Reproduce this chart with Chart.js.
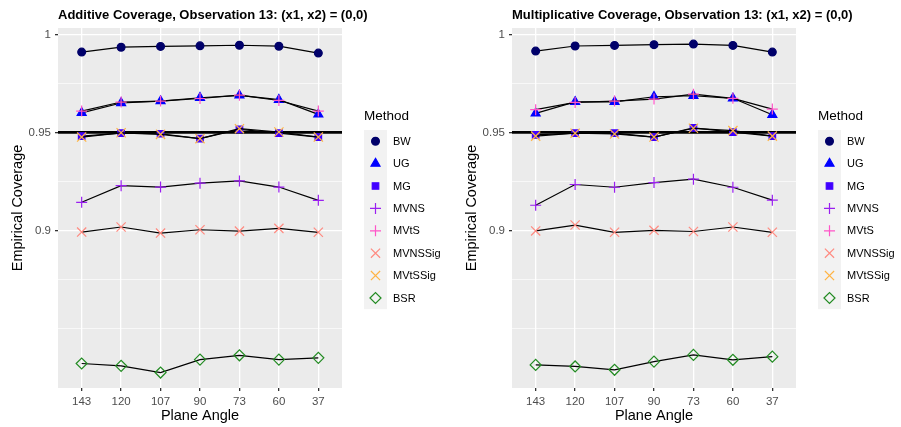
<!DOCTYPE html>
<html>
<head>
<meta charset="utf-8">
<script src="https://cdn.jsdelivr.net/npm/chart.js@4/dist/chart.umd.min.js"></script>
<style>
  html, body { margin: 0; padding: 0; background: #fff; overflow: hidden; }
  #wrap { position: relative; width: 901px; height: 427px; }
  .panel { position: absolute; top: 0; width: 450px; height: 427px; }
</style>
</head>
<body>
<div id="wrap">
  <div class="panel" style="left:0"><canvas id="addChart" width="450" height="427"></canvas></div>
  <div class="panel" style="left:454px"><canvas id="mulChart" width="450" height="427"></canvas></div>
</div>
<script>
// Coverage by plane angle, one line per method, two panels (additive / multiplicative)

var angles = ['143', '120', '107', '90', '73', '60', '37'];
var methods = ['BW', 'UG', 'MG', 'MVNS', 'MVtS', 'MVNSSig', 'MVtSSig', 'BSR'];

var yTicks = [0.9, 0.95, 1];
var yTickLabels = ['0.9', '0.95', '1'];
var yMinor = [0.85, 0.875, 0.925, 0.975];
var nominal = 0.95;

// additive panel
var addBW      = [0.9910, 0.9935, 0.9939, 0.9942, 0.9945, 0.9940, 0.9905];
var addUG      = [0.9600, 0.9650, 0.9660, 0.9677, 0.9689, 0.9667, 0.9592];
var addMG      = [0.9481, 0.9496, 0.9493, 0.9468, 0.9515, 0.9496, 0.9476];
var addMVNS    = [0.9143, 0.9228, 0.9221, 0.9241, 0.9252, 0.9221, 0.9153];
var addMVtS    = [0.9609, 0.9655, 0.9660, 0.9673, 0.9690, 0.9663, 0.9609];
var addMVNSSig = [0.8991, 0.9017, 0.8986, 0.9003, 0.8996, 0.9010, 0.8990];
var addMVtSSig = [0.9476, 0.9498, 0.9490, 0.9468, 0.9519, 0.9502, 0.9476];
var addBSR     = [0.8320, 0.8308, 0.8274, 0.8340, 0.8362, 0.8340, 0.8349];

// multiplicative panel
var mulBW      = [0.9915, 0.9941, 0.9944, 0.9948, 0.9951, 0.9944, 0.9910];
var mulUG      = [0.9597, 0.9656, 0.9656, 0.9682, 0.9687, 0.9674, 0.9590];
var mulMG      = [0.9487, 0.9496, 0.9496, 0.9476, 0.9523, 0.9501, 0.9481];
var mulMVNS    = [0.9128, 0.9234, 0.9220, 0.9244, 0.9261, 0.9220, 0.9154];
var mulMVtS    = [0.9616, 0.9653, 0.9660, 0.9670, 0.9695, 0.9674, 0.9619];
var mulMVNSSig = [0.8997, 0.9027, 0.8990, 0.9000, 0.8994, 0.9017, 0.8990];
var mulMVtSSig = [0.9481, 0.9496, 0.9492, 0.9476, 0.9521, 0.9509, 0.9481];
var mulBSR     = [0.8313, 0.8305, 0.8288, 0.8330, 0.8364, 0.8339, 0.8355];

// marker look per method
var styles = {
  BW:      { shape: 'circle',   color: '#00006A', r: 3.9, fill: true },
  UG:      { shape: 'triangle', color: '#0000FF', r: 5.2, fill: true },
  MG:      { shape: 'rect',     color: '#4000FF', r: 4.6, fill: true },
  MVNS:    { shape: 'cross',    color: '#9A1FF0', r: 5.5, fill: false },
  MVtS:    { shape: 'cross',    color: '#FF55C8', r: 5.5, fill: false },
  MVNSSig: { shape: 'crossRot', color: '#FF8A80', r: 6.5, fill: false },
  MVtSSig: { shape: 'crossRot', color: '#FFB444', r: 6.5, fill: false },
  BSR:     { shape: 'rectRot',  color: '#228B22', r: 5.5, fill: false }
};

var FONT = '"Liberation Sans", Arial, sans-serif';

var panelBg = {
  id: 'panelBg',
  beforeDraw: function(chart) {
    var a = chart.chartArea, ctx = chart.ctx;
    ctx.save();
    ctx.fillStyle = '#EBEBEB';
    ctx.fillRect(a.left, a.top, a.right - a.left, a.bottom - a.top);
    ctx.restore();
  }
};

var refLine = {
  id: 'refLine',
  beforeDatasetsDraw: function(chart) {
    var a = chart.chartArea, ctx = chart.ctx;
    var y = chart.scales.y.getPixelForValue(nominal);
    ctx.save();
    ctx.strokeStyle = '#000';
    ctx.lineWidth = 2.6;
    ctx.beginPath();
    ctx.moveTo(a.left, y);
    ctx.lineTo(a.right, y);
    ctx.stroke();
    ctx.restore();
  }
};

var titleAndLegend = {
  id: 'titleAndLegend',
  afterDraw: function(chart) {
    var a = chart.chartArea, ctx = chart.ctx;
    ctx.save();
    ctx.fillStyle = '#000';
    ctx.textBaseline = 'middle';
    ctx.textAlign = 'left';
    ctx.font = 'bold 13px ' + FONT;
    ctx.fillText(chart.options.plugins.panelTitle, a.left, 15);

    var lx = a.right + 22, top = 130, rowH = 22.4;
    ctx.font = '13.5px ' + FONT;
    ctx.fillText('Method', lx, 116);
    ctx.fillStyle = '#F2F2F2';
    ctx.fillRect(lx, top, 23, rowH * methods.length);
    ctx.font = '11px ' + FONT;
    methods.forEach(function(m, i) {
      var s = styles[m], cy = top + rowH * i + rowH / 2;
      ctx.fillStyle = s.fill ? s.color : 'rgba(0,0,0,0)';
      ctx.strokeStyle = s.color;
      ctx.lineWidth = 1.2;
      Chart.helpers.drawPoint(ctx, { pointStyle: s.shape, radius: s.r, rotation: 0, borderWidth: 1.2 }, lx + 11.5, cy);
      ctx.fillStyle = '#000';
      ctx.fillText(m, lx + 29, cy + 0.5);
    });
    ctx.restore();
  }
};

function makeChart(id, title, series) {
  var datasets = methods.map(function(m, i) {
    var s = styles[m];
    return {
      label: m,
      data: series[i].map(function(v, j) { return { x: j, y: v }; }),
      order: methods.length - i,
      borderColor: '#000',
      borderWidth: 1.2,
      pointStyle: s.shape,
      pointRadius: s.r,
      pointHoverRadius: s.r,
      pointBackgroundColor: s.fill ? s.color : 'rgba(0,0,0,0)',
      pointBorderColor: s.color,
      pointBorderWidth: 1.2,
      tension: 0,
      fill: false
    };
  });

  return new Chart(document.getElementById(id), {
    type: 'line',
    data: { datasets: datasets },
    plugins: [panelBg, refLine, titleAndLegend],
    options: {
      responsive: false,
      animation: false,
      layout: { padding: { left: 0, top: 28, right: 108, bottom: 0 } },
      plugins: {
        legend: { display: false },
        tooltip: { enabled: false },
        panelTitle: title
      },
      scales: {
        x: {
          type: 'linear',
          min: -0.6,
          max: 6.6,
          afterBuildTicks: function(scale) {
            scale.ticks = angles.map(function(a, i) { return { value: i }; });
          },
          afterFit: function(scale) { scale.height = 39; },
          ticks: {
            color: '#4D4D4D',
            font: { family: FONT, size: 11.5 },
            padding: 4,
            maxRotation: 0,
            callback: function(v) { return angles[v]; }
          },
          grid: { color: '#FFFFFF', lineWidth: 1.3, tickColor: '#333333', tickLength: 3 },
          border: { display: false },
          title: { display: true, text: 'Plane Angle', color: '#000', font: { family: FONT, size: 14.5 }, padding: { top: 0, bottom: 2 } }
        },
        y: {
          min: 0.8195,
          max: 1.0033,
          afterBuildTicks: function(scale) {
            scale.ticks = yMinor.concat(yTicks).sort().map(function(v) { return { value: v }; });
          },
          afterFit: function(scale) { scale.width = 58; },
          ticks: {
            color: '#4D4D4D',
            font: { family: FONT, size: 11.5 },
            padding: 4,
            callback: function(v) {
              var k = yTicks.findIndex(function(t) { return Math.abs(t - v) < 1e-9; });
              return k < 0 ? '' : yTickLabels[k];
            }
          },
          grid: {
            color: '#FFFFFF',
            lineWidth: function(c) { return yMinor.indexOf(c.tick.value) >= 0 ? 0.65 : 1.3; },
            tickColor: function(c) { return yMinor.indexOf(c.tick.value) >= 0 ? 'rgba(0,0,0,0)' : '#333333'; },
            tickLength: 3
          },
          border: { display: false },
          title: { display: true, text: 'Empirical Coverage', color: '#000', font: { family: FONT, size: 14.5 }, padding: { top: 9, bottom: 0 } }
        }
      }
    }
  });
}

makeChart('addChart', 'Additive Coverage, Observation 13: (x1, x2) = (0,0)',
  [addBW, addUG, addMG, addMVNS, addMVtS, addMVNSSig, addMVtSSig, addBSR]);
makeChart('mulChart', 'Multiplicative Coverage, Observation 13: (x1, x2) = (0,0)',
  [mulBW, mulUG, mulMG, mulMVNS, mulMVtS, mulMVNSSig, mulMVtSSig, mulBSR]);
</script>
</body>
</html>
